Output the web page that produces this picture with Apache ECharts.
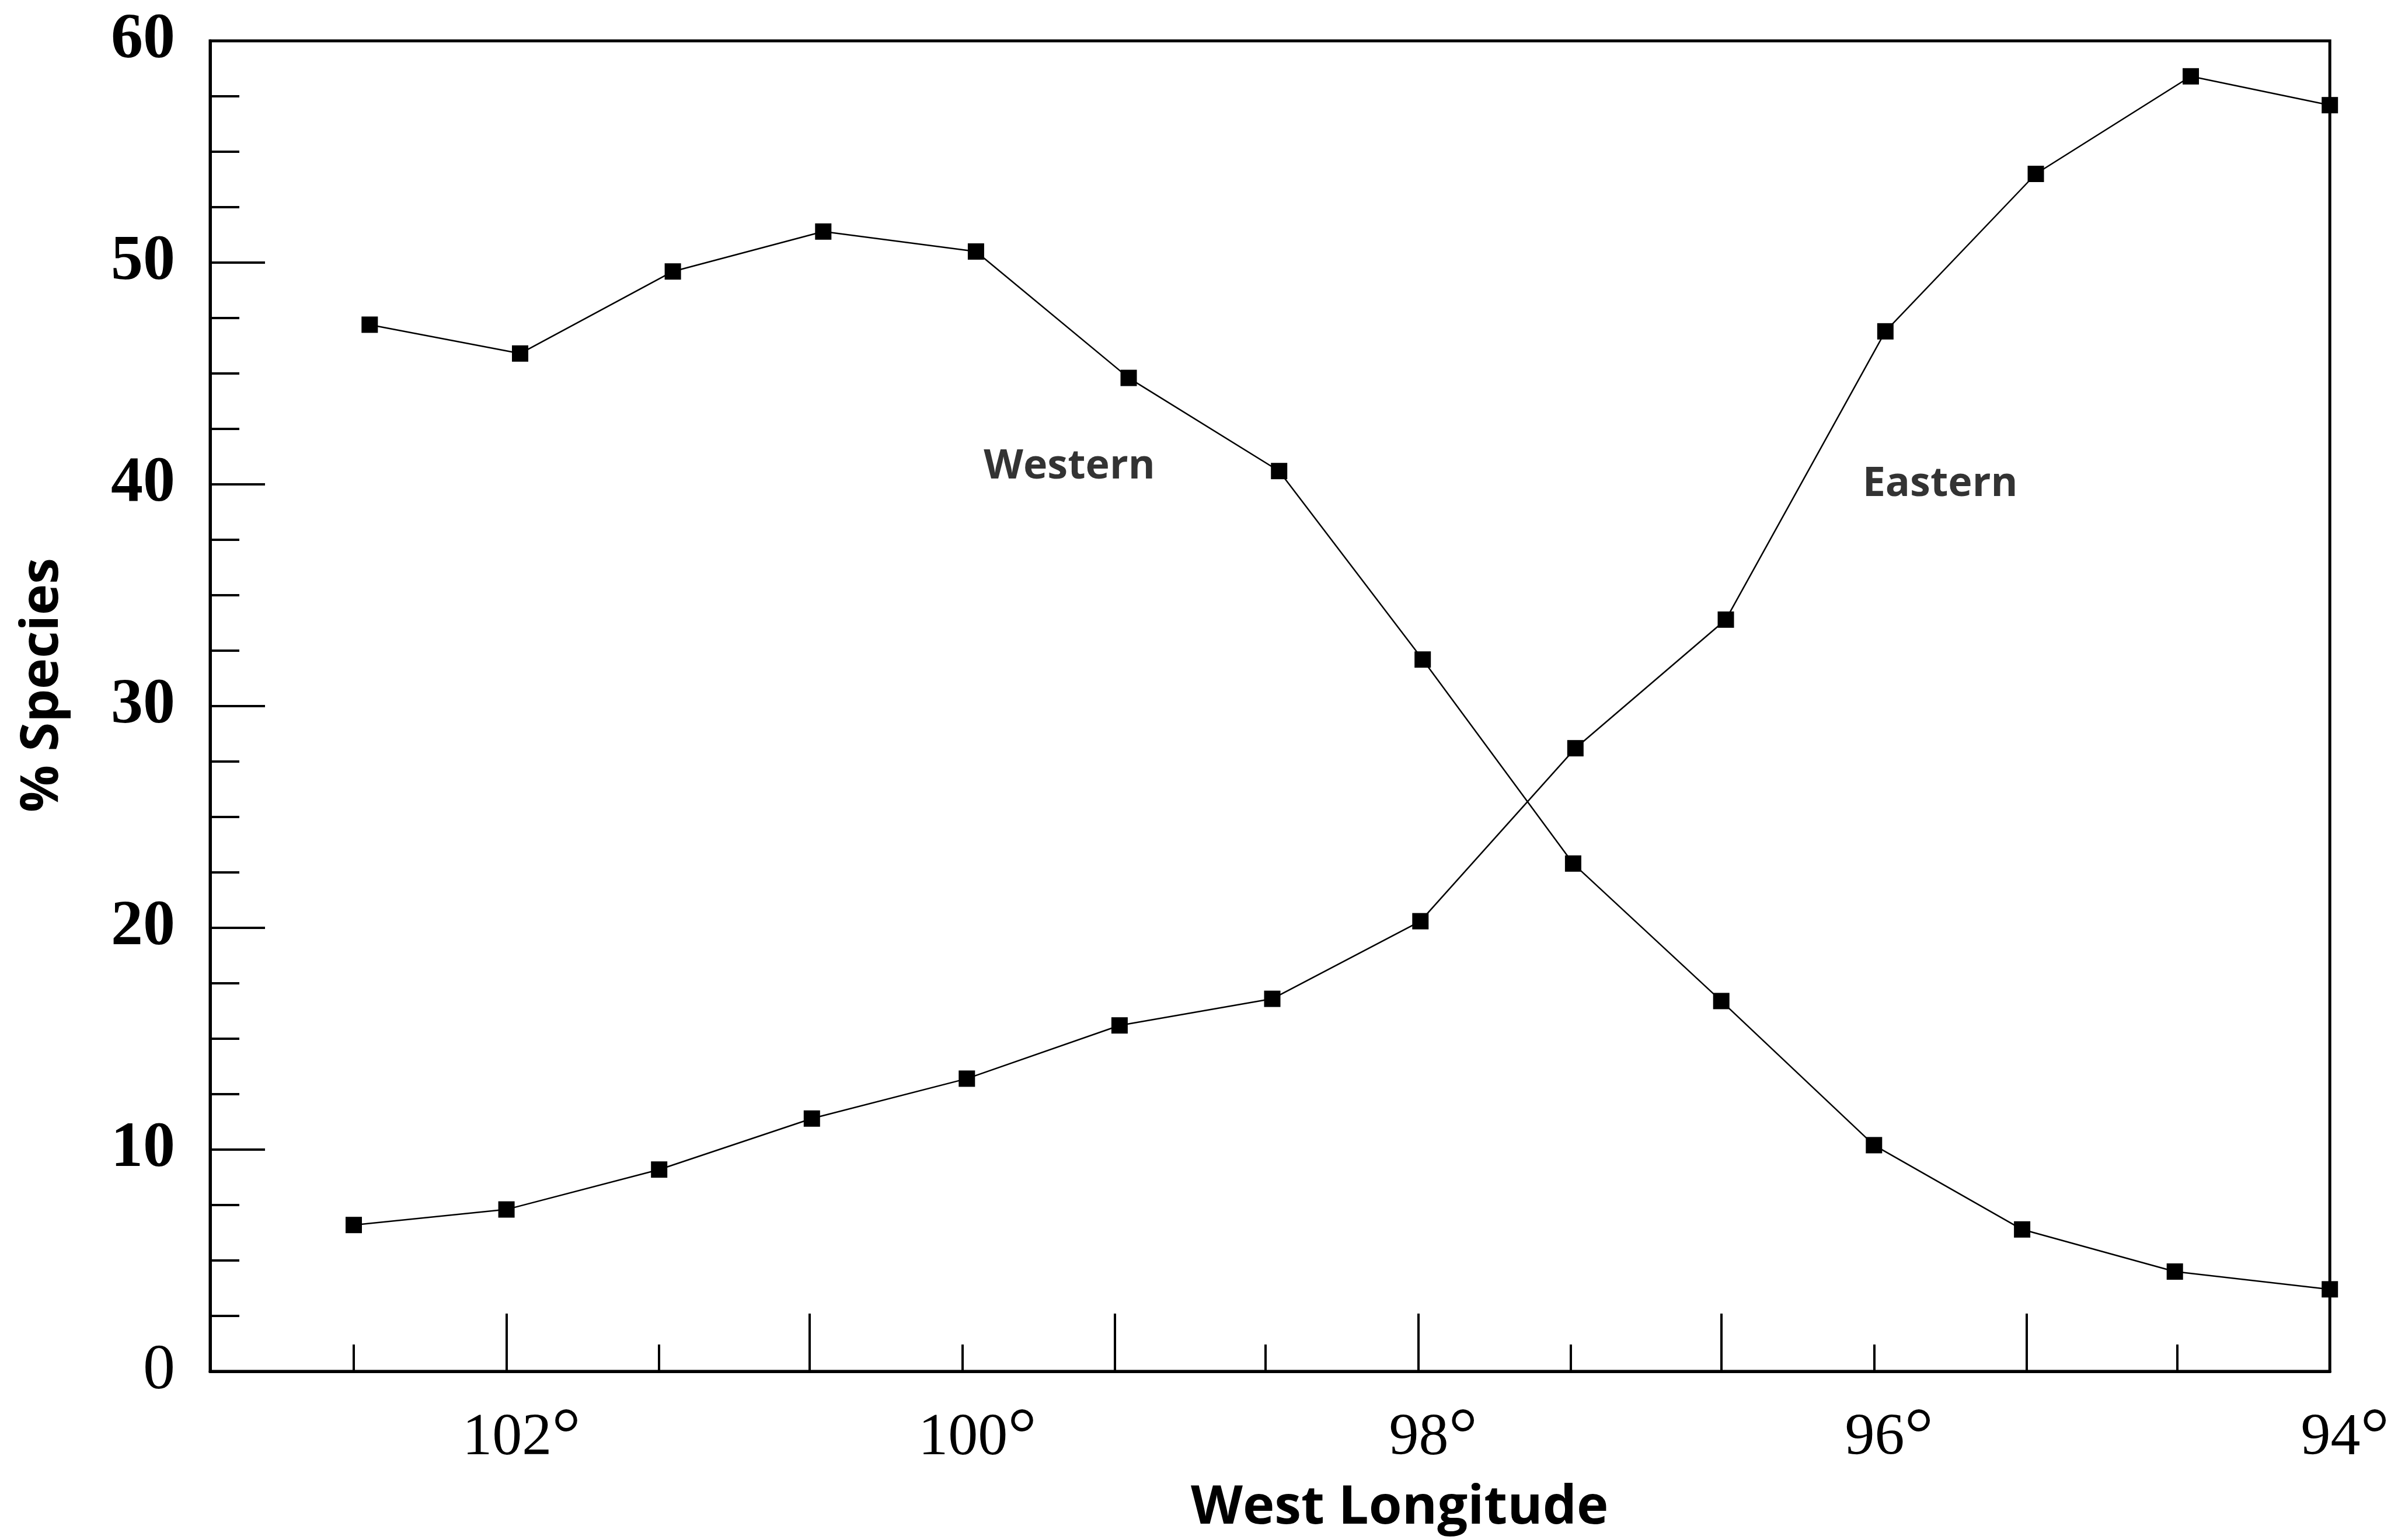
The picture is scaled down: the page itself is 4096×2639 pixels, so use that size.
<!DOCTYPE html>
<html>
<head>
<meta charset="utf-8">
<style>
  html, body { margin: 0; padding: 0; background: #ffffff; }
  #chart { width: 4096px; height: 2639px; }
</style>
<script src="https://cdn.jsdelivr.net/npm/echarts@6/dist/echarts.min.js"></script>
</head>
<body>
<div id="chart"></div>
<script>
// ---- data ----
const lonWestern = [102.60, 101.94, 101.27, 100.61, 99.94, 99.27, 98.61, 97.98, 97.32, 96.67, 96.00, 95.35, 94.68, 94.00];
const pctWestern = [47.2, 45.9, 49.6, 51.4, 50.5, 44.8, 40.6, 32.1, 22.9, 16.7, 10.2, 6.4, 4.5, 3.7];
const lonEastern = [102.67, 102.00, 101.33, 100.66, 99.98, 99.31, 98.64, 97.99, 97.31, 96.65, 95.95, 95.29, 94.61, 94.00];
const pctEastern = [6.6, 7.3, 9.1, 11.4, 13.2, 15.6, 16.8, 20.3, 28.1, 33.9, 46.9, 54.0, 58.4, 57.1];

const xLabelValues = [102, 100, 98, 96, 94];
const xTallTicks = [102, 100.67, 99.33, 98, 96.67, 95.33];
const xShortTicks = [102.67, 101.33, 100, 98.67, 97.33, 96, 94.67];

const annotationText = ['Western', 'Eastern'];
const annotationLon = [99.53, 95.71];
const annotationPct = [40.8, 40.0];

const xName = 'West Longitude';
const yName = '% Species';

// ---- chart ----
const chart = echarts.init(document.getElementById('chart'), null, { renderer: 'canvas' });

function pairs(xs, ys) { return xs.map((x, i) => [x, ys[i]]); }

const xMin = 94, xMax = 103.3;
const black = '#000000';

const option = {
  backgroundColor: '#ffffff',
  animation: false,
  grid: {
    left: 360, right: 93, top: 70, bottom: 289,
    show: true, borderColor: black, borderWidth: 5, backgroundColor: 'transparent'
  },
  xAxis: [
    {
      type: 'value', min: xMin, max: xMax, inverse: true, position: 'bottom',
      axisLine: { show: true, lineStyle: { color: black, width: 5 } },
      axisTick: { show: true, inside: true, length: 99, lineStyle: { color: black, width: 4 }, customValues: xTallTicks },
      axisLabel: {
        show: true, customValues: xLabelValues, margin: 53,
        formatter: v => '{n|' + v + '}{d|°}',
        padding: [0, 0, 0, 52],
        rich: {
          n: { fontFamily: 'Liberation Serif', fontSize: 102, color: black },
          d: { fontFamily: 'Liberation Serif', fontSize: 124, color: black }
        }
      },
      splitLine: { show: false },
      name: xName, nameLocation: 'middle', nameGap: 189,
      nameTextStyle: { fontFamily: 'Open Sans', fontWeight: 'bold', fontSize: 92, color: black, padding: [0, 0, 0, 444] }
    },
    {
      type: 'value', min: xMin, max: xMax, inverse: true, position: 'bottom',
      axisLine: { show: false },
      axisTick: { show: true, inside: true, length: 46, lineStyle: { color: black, width: 4 }, customValues: xShortTicks },
      axisLabel: { show: false },
      splitLine: { show: false }
    }
  ],
  yAxis: {
    type: 'value', min: 0, max: 60, interval: 10,
    axisLine: { show: true, lineStyle: { color: black, width: 5 } },
    axisTick: { show: true, inside: true, length: 94, lineStyle: { color: black, width: 4 } },
    minorTick: { show: true, splitNumber: 4, length: 50, lineStyle: { color: black, width: 4 } },
    axisLabel: {
      margin: 60,
      formatter: v => (v === 0 ? '{r|' + v + '}' : '{b|' + v + '}'),
      rich: {
        r: { fontFamily: 'Liberation Serif', fontSize: 110, fontWeight: 'normal', color: black },
        b: { fontFamily: 'Liberation Serif', fontSize: 110, fontWeight: 'bold', color: black }
      }
    },
    splitLine: { show: false },
    minorSplitLine: { show: false },
    name: yName, nameLocation: 'middle', nameGap: 242, nameRotate: 90,
    nameTextStyle: { fontFamily: 'Open Sans', fontWeight: 'bold', fontSize: 90, color: black, padding: [0, 0, 0, 72] }
  },
  series: [
    {
      name: 'Western', type: 'line', xAxisIndex: 0, data: pairs(lonWestern, pctWestern),
      symbol: 'rect', symbolSize: 28, clip: false,
      lineStyle: { color: black, width: 2.5 }, itemStyle: { color: black }
    },
    {
      name: 'Eastern', type: 'line', xAxisIndex: 0, data: pairs(lonEastern, pctEastern),
      symbol: 'rect', symbolSize: 28, clip: false,
      lineStyle: { color: black, width: 2.5 }, itemStyle: { color: black }
    },
    {
      name: 'labels', type: 'scatter', xAxisIndex: 0, symbolSize: 0, silent: true,
      data: annotationText.map((t, i) => ({ value: [annotationLon[i], annotationPct[i]], name: t })),
      label: {
        show: true, position: 'inside', formatter: p => p.name,
        fontFamily: 'Open Sans', fontSize: 70, color: black, fontWeight: 'bold'
      }
    }
  ]
};

chart.setOption(option);
</script>
</body>
</html>
